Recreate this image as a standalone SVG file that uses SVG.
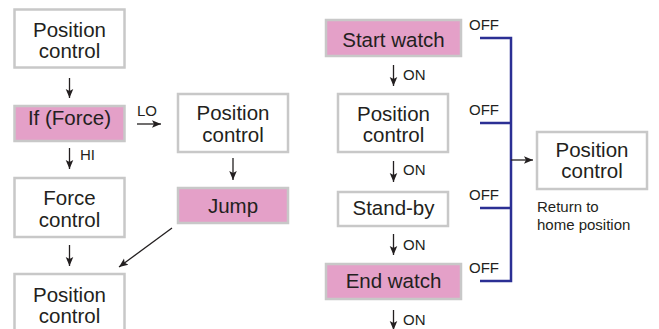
<svg xmlns="http://www.w3.org/2000/svg" width="659" height="329" viewBox="0 0 659 329">
  <defs>
    <style>
      .box { fill: #ffffff; stroke: #c8c8c8; stroke-width: 2.5; }
      .hl { fill: #e4a0c8; stroke: #c8c8c8; stroke-width: 2.5; }
      .t { font-family: "Liberation Sans", Arial, sans-serif; font-size: 20.5px; fill: #231f20; text-anchor: middle; }
      .s { font-family: "Liberation Sans", Arial, sans-serif; font-size: 15px; fill: #231f20; }
      .arr { stroke: #231f20; stroke-width: 1.3; fill: none; marker-end: url(#head); }
      .bus { stroke: #2b2f94; stroke-width: 2.5; fill: none; }
    </style>
    <marker id="head" viewBox="0 0 10 10" refX="10" refY="5" markerUnits="userSpaceOnUse" markerWidth="9" markerHeight="9" orient="auto">
      <path d="M0,0.8 L10,5 L0,9.2 L2.2,5 z" fill="#231f20"/>
    </marker>
  </defs>

  <rect width="659" height="329" fill="#ffffff"/>

  <!-- left flow -->
  <g id="pos1">
    <rect class="box" x="14.5" y="9.5" width="110" height="58"/>
    <text class="t" x="69.5" y="37">Position</text>
    <text class="t" x="69.5" y="58">control</text>
  </g>
  <g id="ifforce">
    <rect class="hl" x="14.5" y="106" width="110" height="35"/>
    <text class="t" x="69.5" y="125">If (Force)</text>
  </g>
  <g id="force">
    <rect class="box" x="14.5" y="178" width="110" height="59"/>
    <text class="t" x="69.5" y="205">Force</text>
    <text class="t" x="69.5" y="227">control</text>
  </g>
  <g id="pos4">
    <rect class="box" x="14.5" y="274" width="110" height="70"/>
    <text class="t" x="69.5" y="302">Position</text>
    <text class="t" x="69.5" y="323">control</text>
  </g>
  <g id="pos2">
    <rect class="box" x="178" y="94" width="110" height="58"/>
    <text class="t" x="233" y="120">Position</text>
    <text class="t" x="233" y="142">control</text>
  </g>
  <g id="jump">
    <rect class="hl" x="178" y="188" width="110" height="35"/>
    <text class="t" x="233" y="213">Jump</text>
  </g>

  <!-- watch flow -->
  <g id="startwatch">
    <rect class="hl" x="326" y="20" width="135" height="36"/>
    <text class="t" x="393.5" y="47">Start watch</text>
  </g>
  <g id="pos3">
    <rect class="box" x="338" y="94" width="110" height="58"/>
    <text class="t" x="393.5" y="121">Position</text>
    <text class="t" x="393.5" y="142">control</text>
  </g>
  <g id="standby">
    <rect class="box" x="338" y="192" width="110" height="34"/>
    <text class="t" x="393.5" y="215">Stand-by</text>
  </g>
  <g id="endwatch">
    <rect class="hl" x="326" y="264" width="135" height="35"/>
    <text class="t" x="393.5" y="288">End watch</text>
  </g>
  <g id="home">
    <rect class="box" x="537" y="132" width="110" height="57"/>
    <text class="t" x="592" y="157">Position</text>
    <text class="t" x="592" y="178">control</text>
    <text class="s" x="537" y="212">Return to</text>
    <text class="s" x="537" y="230">home position</text>
  </g>

  <!-- connectors -->
  <g id="connectors">
    <line class="arr" x1="69.5" y1="78" x2="69.5" y2="98"/>
    <line class="arr" x1="69.5" y1="148" x2="69.5" y2="169"/>
    <text class="s" x="80" y="160">HI</text>
    <line class="arr" x1="69.5" y1="245" x2="69.5" y2="266"/>
    <line class="arr" x1="137" y1="124" x2="161" y2="124"/>
    <text class="s" x="137" y="116">LO</text>
    <line class="arr" x1="233" y1="158" x2="233" y2="180"/>
    <line class="arr" x1="172" y1="228" x2="119" y2="267"/>

    <line class="arr" x1="393.5" y1="65" x2="393.5" y2="86"/>
    <text class="s" x="403" y="80">ON</text>
    <line class="arr" x1="393.5" y1="161" x2="393.5" y2="182"/>
    <text class="s" x="403" y="175">ON</text>
    <line class="arr" x1="393.5" y1="234" x2="393.5" y2="255"/>
    <text class="s" x="403" y="250">ON</text>
    <line class="arr" x1="393.5" y1="310" x2="393.5" y2="330"/>
    <text class="s" x="403" y="325">ON</text>

    <text class="s" x="469" y="30">OFF</text>
    <text class="s" x="469" y="115">OFF</text>
    <text class="s" x="469" y="200">OFF</text>
    <text class="s" x="469" y="273">OFF</text>
    <path class="bus" d="M480,38 H511 V281 H480 M480,123 H511 M480,208 H511"/>
    <line class="arr" x1="511" y1="160" x2="533" y2="160"/>
  </g>
</svg>
